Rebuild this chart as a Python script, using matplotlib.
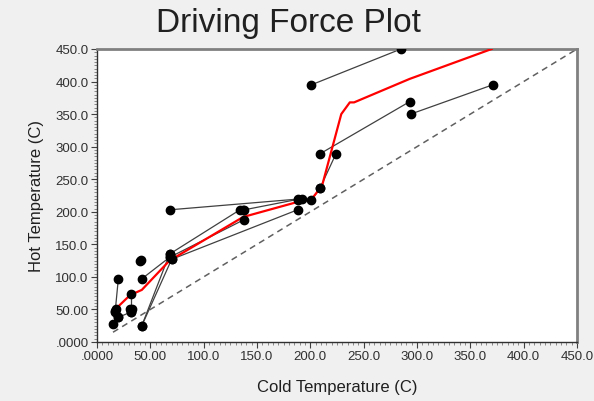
import matplotlib
matplotlib.use("Agg")
import matplotlib.pyplot as plt
from matplotlib.ticker import MultipleLocator, FixedLocator, FixedFormatter

plt.rcParams['font.family'] = ['Liberation Sans', 'DejaVu Sans']

# Exchanger segments: (cold_start, hot_start, cold_end, hot_end)
seg_cold_a = [285, 371, 293, 224, 209, 68, 68, 68, 70, 138, 20, 42, 42, 42, 15, 20, 32]
seg_hot_a  = [450, 395, 369, 289, 236, 203, 135, 130, 127, 203, 97, 97, 25, 25, 27, 38, 46]
seg_cold_b = [201, 294, 209, 209, 201, 192, 134, 138, 188, 188, 17, 68, 68, 70, 20, 32, 32]
seg_hot_b  = [395, 350, 289, 236, 218, 220, 203, 188, 203, 219, 46, 130, 135, 127, 38, 46, 73]

# Extra isolated points
pt_cold = [137, 41, 40, 31, 33, 18, 17, 188]
pt_hot = [203, 126, 125, 51, 50, 50, 48, 218]

# Driving force (red) curve
red_cold = [17, 31, 42, 68, 137, 190, 201, 211, 229, 237, 241, 293, 370]
red_hot  = [50, 72, 80, 125, 192, 216, 219, 240, 350, 368, 368, 404, 450]

# Diagonal reference
diag_cold = [15, 450]
diag_hot = [15, 450]

x_ticks = [0, 50, 100, 150, 200, 250, 300, 350, 400, 450]
x_labels = ['.0000', '50.00', '100.0', '150.0', '200.0', '250.0', '300.0', '350.0', '400.0', '450.0']
y_ticks = [0, 50, 100, 150, 200, 250, 300, 350, 400, 450]
y_labels = ['.0000', '50.00', '100.0', '150.0', '200.0', '250.0', '300.0', '350.0', '400.0', '450.0']

fig = plt.figure(figsize=(5.94, 4.02), dpi=100, facecolor='#f0f0f0')
ax = fig.add_axes([97/594, 59/402, 480/594, 293/402])
ax.set_facecolor('white')

ax.plot(diag_cold, diag_hot, linestyle=(0, (4, 3)), color='#606060', linewidth=1.1, zorder=1)

for ca, ha, cb, hb in zip(seg_cold_a, seg_hot_a, seg_cold_b, seg_hot_b):
    ax.plot([ca, cb], [ha, hb], color='#404040', linewidth=0.9, zorder=2)
    ax.plot([ca, cb], [ha, hb], 'o', color='black', markersize=6, zorder=4, linestyle='none')

ax.plot(pt_cold, pt_hot, 'o', color='black', markersize=6, zorder=4, linestyle='none')
ax.plot(red_cold, red_hot, color='#ff0000', linewidth=1.6, zorder=3)

ax.set_xlim(0, 450)
ax.set_ylim(0, 450)
ax.xaxis.set_major_locator(FixedLocator(x_ticks))
ax.xaxis.set_major_formatter(FixedFormatter(x_labels))
ax.yaxis.set_major_locator(FixedLocator(y_ticks))
ax.yaxis.set_major_formatter(FixedFormatter(y_labels))
ax.xaxis.set_minor_locator(MultipleLocator(5))
ax.yaxis.set_minor_locator(MultipleLocator(5))
ax.tick_params(which='major', direction='out', length=4, width=0.8, color='#404040',
               labelsize=9.5, labelcolor='#303030', pad=2)
ax.tick_params(which='minor', direction='out', length=2, width=0.5, color='#606060')
ax.tick_params(top=False, right=False)

for side in ['left', 'bottom']:
    ax.spines[side].set_color('#303030')
    ax.spines[side].set_linewidth(1.0)
for side in ['top', 'right']:
    ax.spines[side].set_color('#808080')
    ax.spines[side].set_linewidth(2.0)

ax.set_xlabel('Cold Temperature (C)', fontsize=12, color='#202020', labelpad=12)
ax.set_ylabel('Hot Temperature (C)', fontsize=12, color='#202020', labelpad=8)
fig.text(0.485, 0.942, 'Driving Force Plot', fontsize=24, ha='center', va='center', color='#202020')

fig.savefig('out.png', dpi=100, facecolor=fig.get_facecolor())
